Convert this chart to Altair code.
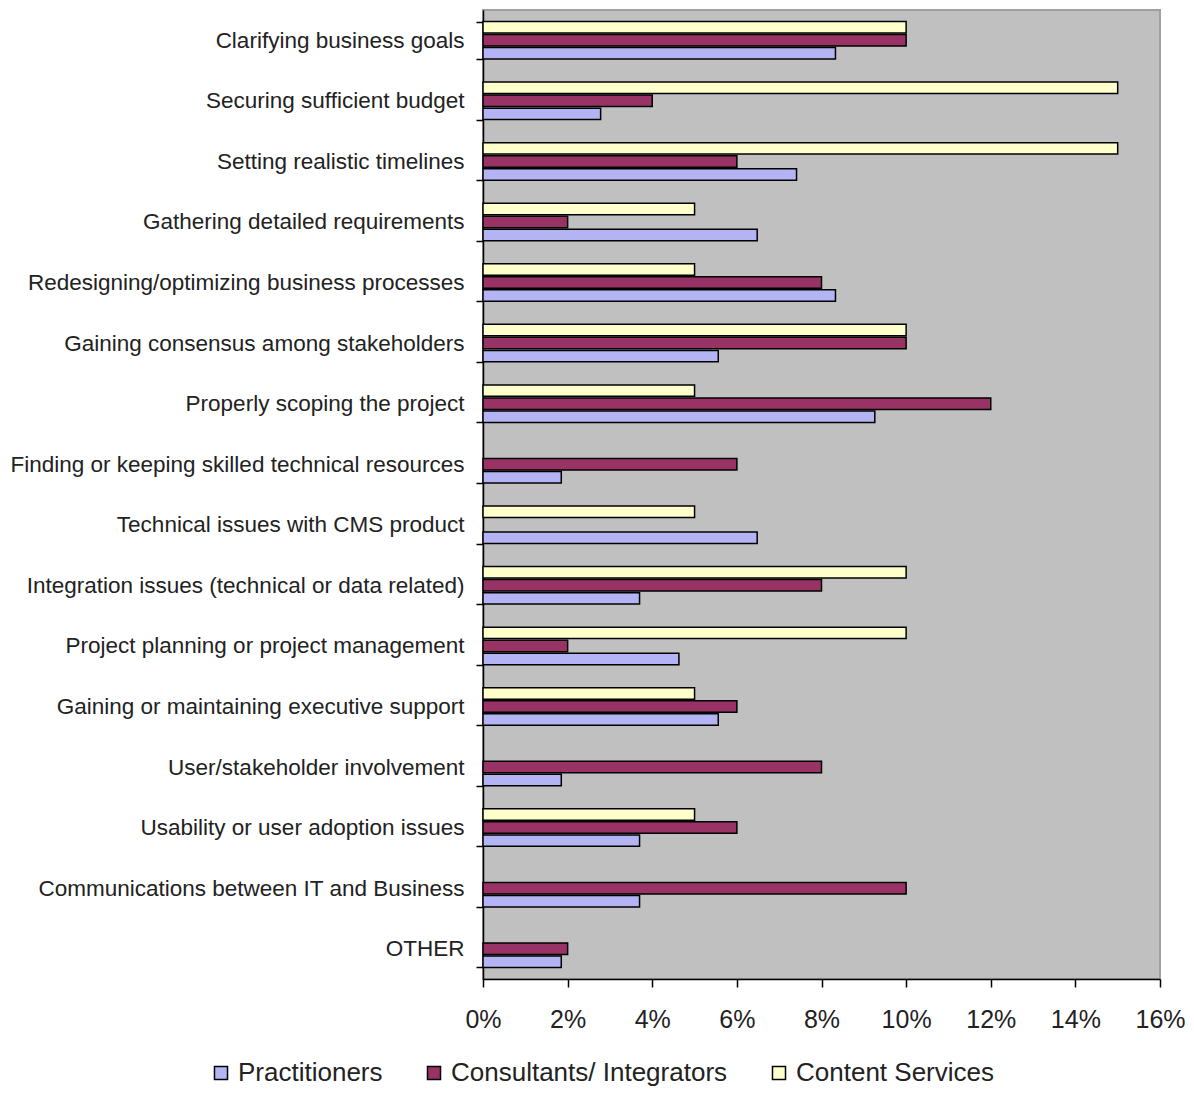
import altair as alt
import pandas as pd

NB = "\u00a0"
categories = [
    "Clarifying business goals",
    "Securing sufficient budget",
    "Setting realistic timelines",
    "Gathering detailed requirements",
    "Redesigning/optimizing business processes",
    "Gaining consensus among stakeholders",
    "Properly scoping the project",
    "Finding or keeping skilled technical resources",
    "Technical issues with CMS product",
    "Integration issues (technical or data related)",
    "Project planning or project management" + NB,
    "Gaining or maintaining executive support",
    "User/stakeholder involvement",
    "Usability or user adoption issues",
    "Communications between IT and Business",
    "OTHER" + NB,
]

practitioners = [8.33, 2.78, 7.41, 6.48, 8.33, 5.56, 9.26, 1.85, 6.48, 3.70, 4.63, 5.56, 1.85, 3.70, 3.70, 1.85]
consultants = [10, 4, 6, 2, 8, 10, 12, 6, 0, 8, 2, 6, 8, 6, 10, 2]
content = [10, 15, 15, 5, 5, 10, 5, 0, 5, 10, 10, 5, 0, 5, 0, 0]

series_names = ["Practitioners", "Consultants/ Integrators", "Content Services"]
series_colors = ["#B4B4F4", "#993366", "#FFFFCC"]
offset_order = ["Content Services", "Consultants/ Integrators", "Practitioners"]

rows = []
for name, vals in zip(series_names, [practitioners, consultants, content]):
    for c, v in zip(categories, vals):
        rows.append({"category": c, "series": name, "value": v / 100.0})
df = pd.DataFrame(rows)

chart = (
    alt.Chart(df)
    .transform_filter("datum.value > 0")
    .mark_bar(stroke="black", strokeWidth=1.5, cornerRadius=0)
    .encode(
        x=alt.X(
            "value:Q",
            scale=alt.Scale(domain=[0, 0.16], nice=False),
            axis=alt.Axis(
                values=[0, 0.02, 0.04, 0.06, 0.08, 0.10, 0.12, 0.14, 0.16],
                format=".0%",
                title=None,
                grid=False,
                domainColor="black",
                domainWidth=1.5,
                tickColor="black",
                tickWidth=1.5,
                tickSize=8,
                labelFontSize=25,
                labelFont="Liberation Sans",
                labelColor="#222222",
                labelPadding=20,
                labelFlush=False,
            ),
        ),
        y=alt.Y(
            "category:N",
            sort=categories,
            scale=alt.Scale(paddingInner=0.38, paddingOuter=0.19),
            axis=alt.Axis(
                title=None,
                tickBand="extent",
                domainColor="black",
                domainWidth=1.5,
                tickColor="black",
                tickWidth=1.5,
                tickSize=7,
                labelFontSize=22.5,
                labelFont="Liberation Sans",
                labelColor="#222222",
                labelPadding=12,
                labelLimit=600,
            ),
        ),
        yOffset=alt.YOffset(
            "series:N",
            scale=alt.Scale(domain=offset_order, paddingInner=0.12),
        ),
        color=alt.Color(
            "series:N",
            scale=alt.Scale(domain=series_names, range=series_colors),
            legend=alt.Legend(
                title=None,
                orient="none",
                direction="horizontal",
                legendX=-275,
                legendY=1050,
                symbolType="square",
                symbolSize=170,
                symbolStrokeColor="black",
                symbolStrokeWidth=1.5,
                labelFontSize=26,
                labelFont="Liberation Sans",
                labelColor="#222222",
                labelOffset=4,
                columnPadding=38,
                labelLimit=400,
            ),
        ),
    )
    .properties(
        width=677,
        height=969,
        autosize=alt.AutoSizeParams(type="none"),
        padding={"left": 475, "top": 2, "right": 26, "bottom": 108},
    )
    .configure_view(fill="#C0C0C0", stroke="#A0A0A0", strokeWidth=2)
)

chart.save("out.html", embed_options={"renderer": "svg", "actions": False})
